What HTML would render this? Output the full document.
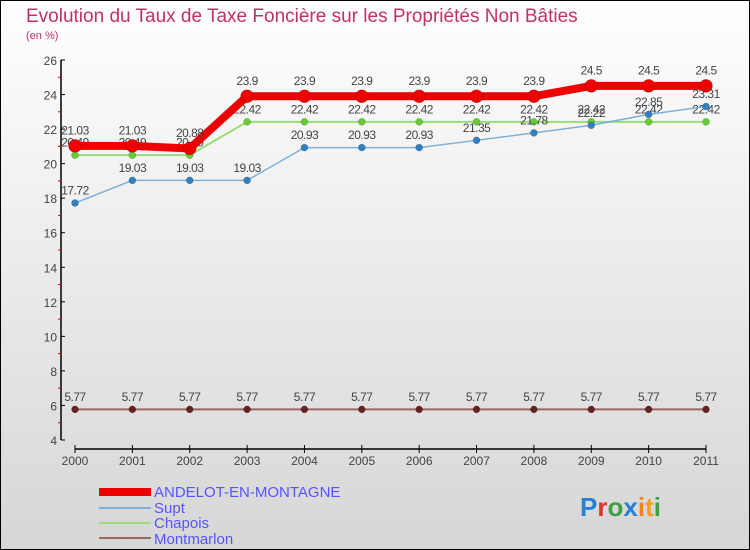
<!DOCTYPE html>
<html><head><meta charset="utf-8"><style>
html,body{margin:0;padding:0}
body{width:750px;height:550px;overflow:hidden;font-family:"Liberation Sans",sans-serif}
#wrap{position:relative;width:748px;height:548px;border:1px solid #000;background:linear-gradient(#ffffff,#d6d6d6)}
</style></head><body>
<div id="wrap">
<svg id="chart" width="748" height="548" style="position:absolute;left:0;top:0;font-family:'Liberation Sans',sans-serif">
<text x="25" y="21" font-size="19" fill="#c0335f">Evolution du Taux de Taxe Foncière sur les Propriétés Non Bâties</text>
<text x="25" y="38" font-size="11" fill="#c0335f">(en %)</text>
<g id="axes"></g><g id="series"></g>
<g font-size="15" fill="#5555ff">
<rect x="98" y="487" width="52" height="8" fill="#ee0000"/>
<text x="153" y="496">ANDELOT-EN-MONTAGNE</text>
<rect x="98" y="506" width="52" height="2" fill="#7fb0d8"/>
<text x="153" y="512">Supt</text>
<rect x="98" y="521" width="52" height="2" fill="#99dd77"/>
<text x="153" y="527">Chapois</text>
<rect x="98" y="536" width="52" height="2" fill="#996666"/>
<text x="153" y="543">Montmarlon</text>
</g>
<text x="579" y="515" font-size="26" font-weight="bold"><tspan fill="#2a7fd4">P</tspan><tspan fill="#e03030">r</tspan><tspan fill="#40a040">o</tspan><tspan fill="#2a7fd4">x</tspan><tspan fill="#f08020">i</tspan><tspan fill="#f0a020">t</tspan><tspan fill="#40a040">i</tspan></text>
</svg>
</div>
<script>
const years=[2000,2001,2002,2003,2004,2005,2006,2007,2008,2009,2010,2011];
const andelot=[21.03,21.03,20.88,23.9,23.9,23.9,23.9,23.9,23.9,24.5,24.5,24.5];
const supt=[17.72,19.03,19.03,19.03,20.93,20.93,20.93,21.35,21.78,22.22,22.85,23.31];
const chapois=[20.49,20.49,20.49,22.42,22.42,22.42,22.42,22.42,22.42,22.42,22.42,22.42];
const montmarlon=[5.77,5.77,5.77,5.77,5.77,5.77,5.77,5.77,5.77,5.77,5.77,5.77];
const yTicks=[4,6,8,10,12,14,16,18,20,22,24,26];
const NS="http://www.w3.org/2000/svg";
const yMin=4,yMax=26,yTop=59,yBot=439,x0=74,x1=705;
function X(i){return x0+(x1-x0)*i/(years.length-1);}
function Y(v){return yBot-(v-yMin)/(yMax-yMin)*(yBot-yTop);}
function mk(tag,attrs,parent){const e=document.createElementNS(NS,tag);for(const k in attrs)e.setAttribute(k,attrs[k]);parent.appendChild(e);return e;}
const ax=document.getElementById('axes');
let l=mk('line',{x1:60,y1:yTop,x2:60,y2:yBot,stroke:'#000','stroke-width':1.5},ax);


l=mk('line',{x1:x0,y1:448,x2:x1,y2:448,stroke:'#000','stroke-width':1.5},ax);


yTicks.forEach(v=>{
 const t=mk('text',{x:56,y:Y(v)+5,'text-anchor':'end','font-size':12,fill:'#444'},ax);t.textContent=v;
 
 
 mk('line',{x1:60,y1:Y(v),x2:64,y2:Y(v),stroke:'#000'},ax);
 if(v<yMax){mk('line',{x1:57,y1:Y(v+1),x2:60,y2:Y(v+1),stroke:'#e00000'},ax);}
});
years.forEach((y,i)=>{
 mk('line',{x1:X(i),y1:444,x2:X(i),y2:452,stroke:'#000'},ax);
 const t=mk('text',{x:X(i),y:464,'text-anchor':'middle','font-size':12,fill:'#444'},ax);t.textContent=y;
 
 
});
const sg=document.getElementById('series');
function draw(name,vals,color,w,r,dot){
 const g=mk('g',{},sg);
 
 
 const p=mk('polyline',{points:vals.map((v,i)=>X(i)+','+Y(v)).join(' '),fill:'none',stroke:color,'stroke-width':w},g);
 
 
 vals.forEach((v,i)=>{
  const c=mk('circle',{cx:X(i),cy:Y(v),r:r,fill:dot,stroke:'rgba(0,0,0,0.3)','stroke-width':0.5},g);
  
  
  const t=mk('text',{x:X(i),y:Y(v)-(r+5),'text-anchor':'middle','font-size':12,fill:'#444','letter-spacing':'-0.5'},g);
  t.textContent=v;
  
  
 });
}
draw('montmarlon',montmarlon,'#996666',2,3.5,'#662222');
draw('chapois',chapois,'#99dd77',2,3.5,'#66cc33');
draw('supt',supt,'#7fb0d8',1.5,3.5,'#3380c0');
draw('andelot',andelot,'#ee0000',8,6.5,'#ee0000');
</script>
</body></html>
